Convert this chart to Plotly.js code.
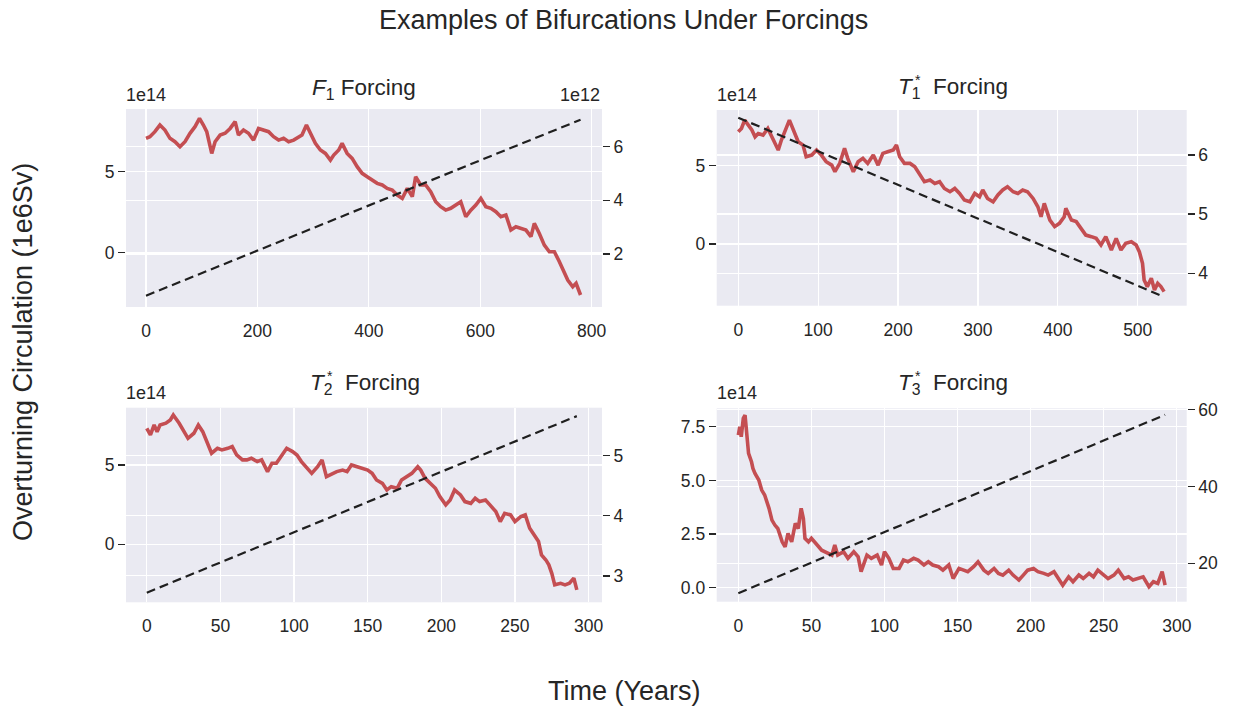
<!DOCTYPE html>
<html>
<head>
<meta charset="utf-8">
<script src="https://cdn.plot.ly/plotly-3.0.1.min.js"></script>
<style>
  html, body { margin: 0; padding: 0; background: #ffffff; }
  #chart { width: 1247px; height: 709px; }
</style>
</head>
<body>
<div id="chart"></div>
<script>
// Overturning circulation (units of 1e14) against time, with the linear forcing ramp on a twin axis.

// ---- F1 forcing run ----
const f1Years = [0,7,16,25,34,43,52,61,70,79,88,96,103,109,118,124,133,142,151,160,166,175,184,193,202,211,220,229,238,247,256,265,274,280,288,295,304,313,322,331,337,346,352,361,370,379,388,397,406,415,424,433,442,451,460,469,478,484,493,502,511,520,529,538,547,556,565,574,583,592,601,610,619,628,637,646,655,664,673,682,691,697,706,715,724,733,742,748,757,766,772,780];
const f1Circulation = [7.06,7.16,7.47,7.88,7.57,7.06,6.85,6.54,6.85,7.37,7.78,8.29,7.88,7.47,6.13,6.85,7.26,7.37,7.67,8.09,7.26,7.57,7.37,6.95,7.67,7.57,7.47,7.16,6.95,7.06,6.85,6.95,7.16,7.26,7.88,7.37,6.75,6.34,6.13,5.72,6.03,6.34,6.75,6.13,5.82,5.31,4.90,4.69,4.49,4.28,4.18,3.97,3.87,3.56,3.35,3.97,3.46,4.69,4.18,4.18,3.77,3.15,2.84,2.63,2.74,2.94,3.15,2.22,2.63,2.94,3.35,2.84,2.74,2.53,2.22,2.33,1.40,1.60,1.50,1.40,0.99,1.81,1.19,0.47,0.06,0.06,-0.56,-1.07,-1.69,-2.10,-1.89,-2.61];
const f1RampYears = [0, 780];
const f1Ramp = [0.45, 7.0];           // units of 1e12

// ---- T1* forcing run ----
const t1Years = [0,4,8,12,17,21,25,31,37,44,50,54,58,64,69,75,81,85,92,98,104,110,117,121,127,133,137,144,150,156,162,169,175,181,187,194,198,202,208,215,221,227,233,240,246,252,258,265,271,277,283,290,296,302,306,312,319,325,331,337,344,350,356,362,369,375,379,383,390,396,402,408,410,417,423,429,435,442,448,454,460,467,473,479,485,492,498,502,506,508,512,517,521,525,529,533];
const t1Circulation = [7.17,7.38,7.91,7.60,7.28,6.85,7.06,6.96,7.38,6.64,6.00,6.64,7.17,7.91,7.28,6.53,6.32,5.57,5.68,6.00,5.68,5.26,5.04,4.62,5.15,6.11,5.47,4.62,5.26,5.47,5.15,5.68,5.04,5.79,5.89,6.00,6.32,5.57,5.15,5.15,4.94,4.51,3.98,4.09,3.87,3.98,3.55,3.34,3.55,3.23,2.81,2.70,3.23,3.02,3.45,2.91,2.70,3.13,3.45,3.66,3.34,3.23,3.45,3.34,2.91,2.38,1.74,2.60,1.53,1.11,1.32,1.74,2.28,1.53,1.43,1.00,0.57,0.47,0.36,-0.06,0.47,-0.38,0.36,-0.38,0.04,0.15,-0.06,-0.49,-1.23,-2.30,-2.72,-2.19,-2.94,-2.51,-2.72,-3.04];
const t1RampYears = [0, 533];
const t1Ramp = [6.63, 3.60];

// ---- T2* forcing run ----
const t2Years = [0,2.5,5,7,9,13,16,18,22,25,28,32,35,38,41,44,48,51,55,58,61,65,68,71,75,78,82,85,88,92,95,99,102,105,109,112,116,119,122,126,129,133,136,139,143,146,150,153,156,160,163,166,170,173,177,180,184,186,189,193,196,199,203,206,209,213,216,220,223,226,230,233,237,240,243,247,250,254,257,260,264,266,268,271,273,275,277,281,284,287,290,292];
const t2Circulation = [7.31,6.89,7.52,7.10,7.52,7.63,7.84,8.15,7.63,7.10,6.68,7.00,7.52,7.10,6.47,5.74,6.05,5.95,6.05,6.16,5.63,5.32,5.32,5.42,5.21,5.32,4.58,5.11,5.11,5.63,6.05,5.84,5.63,5.21,4.79,4.47,4.89,5.32,4.26,4.47,4.58,4.68,4.58,5.00,4.89,4.79,4.68,4.47,4.05,3.84,3.42,3.63,3.53,4.05,4.26,4.47,4.89,4.68,4.16,3.84,3.53,3.00,2.48,2.79,3.42,3.11,2.69,2.58,2.90,2.69,2.79,2.48,2.06,1.43,1.95,1.85,1.43,1.74,1.85,1.01,0.48,0.17,-0.67,-0.99,-1.30,-1.83,-2.56,-2.46,-2.56,-2.46,-2.14,-2.88];
const t2RampYears = [0, 292];
const t2Ramp = [2.72, 5.66];

// ---- T3* forcing run ----
const t3Years = [0,1,2,3.4,4.6,5.7,7,9,10,11.4,14,16,18,21,23,25,27,30,32,34,36.5,39,41,43,44.5,45.6,48,50,52.5,55,57,59,62,64,66,68,72,75,79,82,84,88,91,95,98,100,103,106,110,113,116,120,123,127,130,133,137,140,144,147,151,154,157,161,164,168,171,175,178,181,185,188,192,195,198,202,205,209,212,216,219,222,226,229,233,236,240,243,246,250,253,257,260,264,267,270,274,277,281,284,287,290,292];
const t3Circulation = [7.11,7.50,7.03,7.89,8.04,7.27,6.26,5.87,5.56,5.33,5.02,4.55,4.32,3.70,3.15,2.92,2.76,2.14,1.91,2.53,2.14,3.00,2.76,3.70,3.23,2.30,2.14,2.30,2.07,1.91,1.75,1.68,1.60,1.52,1.99,1.52,1.68,1.37,1.68,1.44,0.75,1.52,1.37,1.52,1.06,1.68,1.37,0.90,0.90,1.29,1.21,1.37,1.29,1.06,1.21,1.06,0.98,0.82,1.06,0.43,0.90,0.82,0.75,0.98,1.21,0.82,0.67,0.90,0.67,0.59,0.82,0.59,0.36,0.59,0.82,0.90,0.75,0.67,0.59,0.75,0.43,0.12,0.51,0.28,0.59,0.43,0.67,0.51,0.82,0.59,0.43,0.59,0.82,0.43,0.51,0.36,0.43,0.51,0.05,0.28,0.20,0.75,0.12];
const t3RampYears = [0, 292];
const t3Ramp = [12.2, 58.7];

// Panel headings; the starred ones get their star set above the subscript separately.
const panelTitles = [
  '<i>F</i><sub>1</sub> Forcing',
  '<i>T</i><sub>1</sub>  Forcing',
  '<i>T</i><sub>2</sub>  Forcing',
  '<i>T</i><sub>3</sub>  Forcing'
];

// ---- styling ----
const W = 1247, H = 709;
const px = v => v / W;
const py = v => 1 - v / H;
const TEXT = '#262626';
const FONT = '"Liberation Sans", Arial, sans-serif';
const RED = '#c44e52';
const GRID = '#ffffff';
const TICK_FONT = { family: FONT, size: 17.5, color: TEXT };

function lineTrace(x, y, xa, ya) {
  return { x, y, xaxis: xa, yaxis: ya, type: 'scatter', mode: 'lines',
           line: { color: RED, width: 3.6 }, hoverinfo: 'skip', showlegend: false };
}
function rampTrace(x, y, xa, ya) {
  return { x, y, xaxis: xa, yaxis: ya, type: 'scatter', mode: 'lines',
           line: { color: '#1f1f1f', width: 2.2, dash: '9px,5px' }, hoverinfo: 'skip', showlegend: false };
}

const data = [
  lineTrace(f1Years, f1Circulation, 'x', 'y'),
  rampTrace(f1RampYears, f1Ramp, 'x', 'y2'),
  lineTrace(t1Years, t1Circulation, 'x2', 'y3'),
  rampTrace(t1RampYears, t1Ramp, 'x2', 'y4'),
  lineTrace(t2Years, t2Circulation, 'x3', 'y5'),
  rampTrace(t2RampYears, t2Ramp, 'x3', 'y6'),
  lineTrace(t3Years, t3Circulation, 'x4', 'y7'),
  rampTrace(t3RampYears, t3Ramp, 'x4', 'y8')
];

function xAxis(domain, range, dtick, anchor) {
  return { domain, range, dtick, tick0: 0, anchor, showgrid: true, gridcolor: GRID, gridwidth: 1.2,
           zeroline: false, showline: false, ticks: 'outside', ticklen: 8,
           tickcolor: 'rgba(0,0,0,0)', tickfont: TICK_FONT, fixedrange: true };
}
function yAxis(domain, range, dtick, anchor, fmt) {
  return { domain, range, dtick, tick0: 0, anchor, showgrid: true, gridcolor: GRID, gridwidth: 1.2,
           zeroline: false, showline: false, ticks: 'outside', ticklen: 7, tickwidth: 1.3,
           tickcolor: TEXT, tickfont: TICK_FONT, tickformat: fmt || '', fixedrange: true };
}
function twinAxis(overlay, range, dtick, anchor, fmt) {
  return { overlaying: overlay, side: 'right', range, dtick, tick0: 0, anchor,
           showgrid: true, gridcolor: GRID, gridwidth: 1.2, zeroline: false, showline: false,
           ticks: 'outside', ticklen: 7, tickwidth: 1.3, tickcolor: TEXT, tickfont: TICK_FONT,
           tickformat: fmt || '', fixedrange: true };
}

const colL = [px(126), px(602)];
const colR = [px(716.7), px(1186.7)];
const rowT = [py(307), py(109)];
const rowTR = [py(305.7), py(110)];
const rowB = [py(602.3), py(407.7)];
const rowBR = [py(601.7), py(408.3)];

function ann(text, x, y, size, opts) {
  return Object.assign({ text, x: px(x), y: py(y), xref: 'paper', yref: 'paper', showarrow: false,
    xanchor: 'center', yanchor: 'middle', font: { family: FONT, size, color: TEXT } }, opts || {});
}

const layout = {
  width: W, height: H,
  margin: { l: 0, r: 0, t: 0, b: 0 },
  paper_bgcolor: '#ffffff',
  plot_bgcolor: '#eaeaf2',
  showlegend: false,
  xaxis:  xAxis(colL, [-35.9, 818.5], 200, 'y'),
  yaxis:  yAxis(rowT, [-3.35, 8.87], 5, 'x'),
  yaxis2: twinAxis('y', [0.03, 7.40], 2, 'x'),
  xaxis2: xAxis(colR, [-27.0, 561.3], 100, 'y3'),
  yaxis3: yAxis(rowTR, [-3.94, 8.56], 5, 'x2'),
  yaxis4: twinAxis('y3', [3.45, 6.76], 1, 'x2'),
  xaxis3: xAxis(colL, [-14.1, 309.1], 50, 'y5'),
  yaxis5: yAxis(rowB, [-3.66, 8.61], 5, 'x3'),
  yaxis6: twinAxis('y5', [2.56, 5.80], 1, 'x3'),
  xaxis4: xAxis(colR, [-14.8, 306.8], 50, 'y7'),
  yaxis7: yAxis(rowBR, [-0.65, 8.36], 2.5, 'x4', '.1f'),
  yaxis8: twinAxis('y7', [9.97, 60.4], 20, 'x4'),
  annotations: [
    ann('Examples of Bifurcations Under Forcings', 623.5, 20, 27),
    ann('Overturning Circulation (1e6Sv)', 23, 352, 27, { textangle: -90 }),
    ann('Time (Years)', 624, 691, 27),
    ann(panelTitles[0], 364, 89, 22.5),
    ann(panelTitles[1], 953, 88, 22.5),
    ann(panelTitles[2], 365.3, 384, 22.5),
    ann(panelTitles[3], 953, 384, 22.5),
    ann('*', 917.5, 80, 14),
    ann('*', 329.8, 376, 14),
    ann('*', 917.5, 376, 14),
    ann('1e14', 124, 95, 18, { xanchor: 'left' }),
    ann('1e12', 602, 95, 18, { xanchor: 'right' }),
    ann('1e14', 715, 95, 18, { xanchor: 'left' }),
    ann('1e14', 124, 393, 18, { xanchor: 'left' }),
    ann('1e14', 715, 393, 18, { xanchor: 'left' })
  ]
};

Plotly.newPlot('chart', data, layout, { displayModeBar: false, staticPlot: true });
</script>
</body>
</html>
